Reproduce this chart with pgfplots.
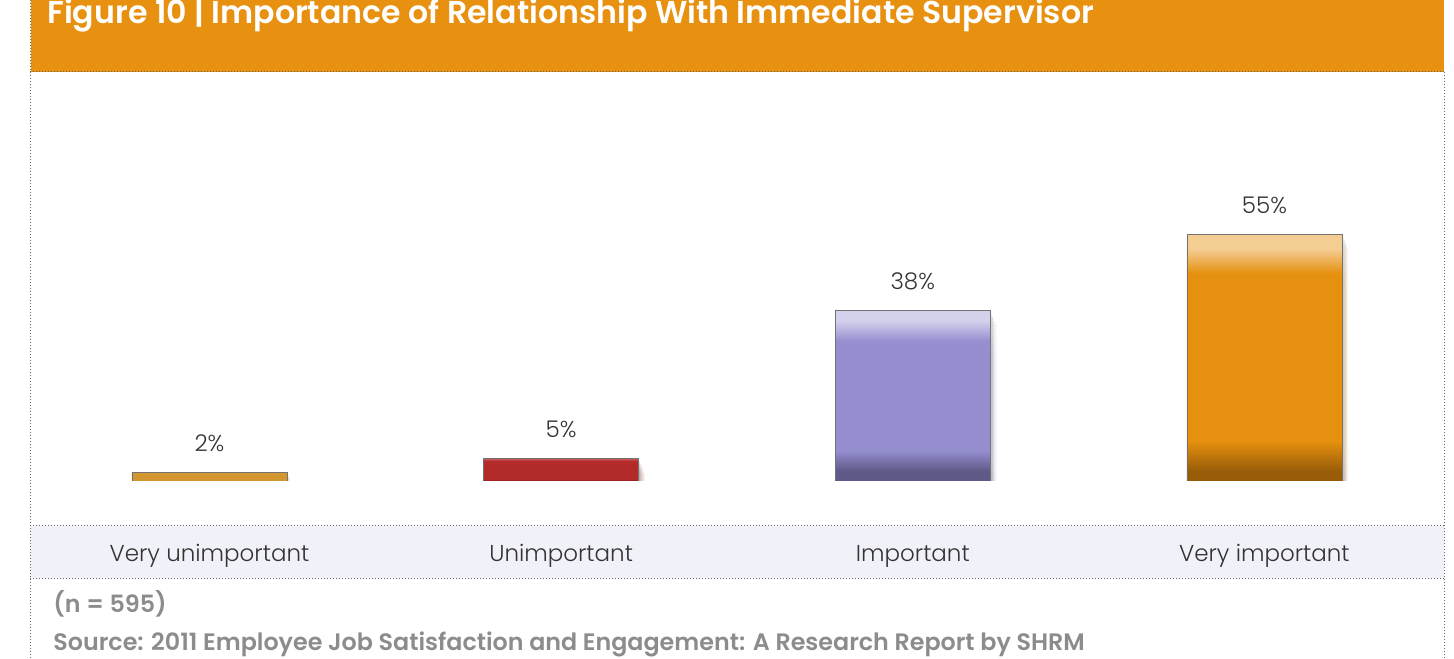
\documentclass[border=0pt]{standalone}
\usepackage{pgfplots}
\pgfplotsset{compat=1.18}
\usepackage{fontspec}
\setmainfont{Poppins}
\IfFontExistsTF{Poppins Light}{\newfontfamily\lightfont{Poppins Light}}{\newfontfamily\lightfont{Poppins}}
\IfFontExistsTF{Poppins SemiBold}{\newfontfamily\semifont{Poppins SemiBold}}{\newfontfamily\semifont{Poppins}[UprightFont=*, BoldFont=*]}
\usetikzlibrary{shadows}
% soft shadow built from a few faint offset copies
\tikzset{barshadow/.style={
    drop shadow={opacity=0.08, shadow xshift=0.6pt, shadow yshift=-1.5pt},
    drop shadow={opacity=0.08, shadow xshift=1.2pt, shadow yshift=-3pt},
    drop shadow={opacity=0.07, shadow xshift=1.8pt, shadow yshift=-4.5pt},
    drop shadow={opacity=0.05, shadow xshift=2.4pt, shadow yshift=-6pt},
    drop shadow={opacity=0.03, shadow xshift=3pt, shadow yshift=-7.5pt}}}

\definecolor{hdr}{HTML}{E8900F}
\definecolor{band}{HTML}{F1F1F9}
\definecolor{foot}{HTML}{8C8C8C}
\definecolor{txt}{HTML}{333333}
\definecolor{dots}{HTML}{666666}

\definecolor{tanT}{HTML}{E2B064}\definecolor{tanM}{HTML}{D4962F}\definecolor{tanB}{HTML}{B07A22}
\definecolor{redT}{HTML}{CC5A5A}\definecolor{redM}{HTML}{B32A2B}\definecolor{redB}{HTML}{861A1B}
\definecolor{lavT}{HTML}{D4D1EC}\definecolor{lavM}{HTML}{958FD0}\definecolor{lavB}{HTML}{5F5A88}
\definecolor{orgT}{HTML}{F4CD93}\definecolor{orgM}{HTML}{E5900F}\definecolor{orgB}{HTML}{985C08}

% bevel look: light strip on top, dark strip at the bottom
\pgfdeclareverticalshading{bevTan}{100bp}{color(0bp)=(tanB); color(25bp)=(tanB); color(29bp)=(tanM); color(69bp)=(tanM); color(75bp)=(tanT); color(100bp)=(tanT)}
\pgfdeclareverticalshading{bevRed}{100bp}{color(0bp)=(redB); color(25bp)=(redB); color(29bp)=(redM); color(69bp)=(redM); color(75bp)=(redT); color(100bp)=(redT)}
\pgfdeclareverticalshading{bevLav}{100bp}{color(0bp)=(lavB); color(25bp)=(lavB); color(28bp)=(lavB); color(34bp)=(lavM); color(66bp)=(lavM); color(72bp)=(lavT); color(100bp)=(lavT)}
\pgfdeclareverticalshading{bevOrg}{100bp}{color(0bp)=(orgB); color(25bp)=(orgB); color(27bp)=(orgB); color(33bp)=(orgM); color(67bp)=(orgM); color(72bp)=(orgT); color(100bp)=(orgT)}

\begin{document}
\begin{tikzpicture}
\useasboundingbox (0,0) rectangle (727pt,329pt);

% header band and title
\fill[hdr] (15.5pt,293pt) rectangle (722pt,329pt);
\node[anchor=base west, inner sep=0pt, text=white, font=\semifont\fontsize{15.8}{18}\selectfont]
  at (23.5pt,317pt) {Figure 10 | Importance of Relationship With Immediate Supervisor};

% category band
\fill[band] (15pt,40pt) rectangle (722pt,66pt);
\draw[dots, densely dotted, line width=0.5pt] (15pt,293pt) -- (722pt,293pt);
\draw[dots, densely dotted, line width=0.5pt] (15pt,66pt) -- (722pt,66pt);
\draw[dots, densely dotted, line width=0.5pt] (15pt,40pt) -- (722pt,40pt);
\draw[dots, densely dotted, line width=0.5pt] (15pt,329pt) -- (15pt,0pt);
\draw[dots, densely dotted, line width=0.5pt] (722pt,293pt) -- (722pt,0pt);

\begin{axis}[
    at={(16.83pt,88.5pt)}, anchor=south west,
    scale only axis,
    width=703.3pt, height=224.5pt,
    xmin=-0.5, xmax=3.5,
    ymin=0, ymax=100,
    axis line style={draw=none},
    major tick length=0pt,
    ytick=\empty,
    xtick={0,1,2,3},
    xticklabels={Very unimportant, Unimportant, Important, Very important},
    xticklabel style={anchor=base, yshift=-40pt, text=txt,
        font=\lightfont\fontsize{11.5}{13}\selectfont},
    ybar, bar width=77.5pt,
    /pgf/number format/assume math mode=true,
    nodes near coords={\pgfmathprintnumber{\pgfplotspointmeta}\%},
    nodes near coords style={anchor=base, yshift=10.5pt, text=txt,
        font=\lightfont\fontsize{11.5}{13}\selectfont},
    every axis plot/.append style={bar shift=0pt, draw=black!55, line width=0.4pt, barshadow},
]
\addplot[shading=bevTan] coordinates {(0,2)};
\addplot[shading=bevRed] coordinates {(1,5)};
\addplot[shading=bevLav] coordinates {(2,38)};
\addplot[shading=bevOrg] coordinates {(3,55)};
\end{axis}

% footnotes
\node[anchor=base west, inner sep=0pt, text=foot, font=\semifont\fontsize{11.9}{14}\selectfont]
  at (26.5pt,23pt) {(n = 595)};
\node[anchor=base west, inner sep=0pt, text=foot, font=\semifont\fontsize{11.9}{14}\selectfont]
  at (26.5pt,4pt) {Source: 2011 Employee Job Satisfaction and Engagement: A Research Report by SHRM};
\end{tikzpicture}
\end{document}
